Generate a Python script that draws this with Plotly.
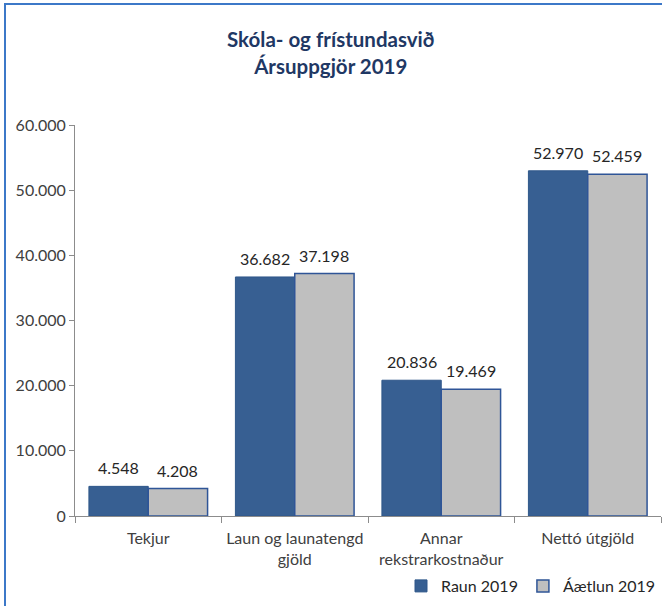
import plotly.graph_objects as go

categories = ["Tekjur", "Laun og launatengd<br>gjöld", "Annar<br>rekstrarkostnaður", "Nettó útgjöld"]
raun_2019 = [4548, 36682, 20836, 52970]
aaetlun_2019 = [4208, 37198, 19469, 52459]
y_ticks = [0, 10000, 20000, 30000, 40000, 50000, 60000]
title_lines = ["Skóla- og frístundasvið", "Ársuppgjör 2019"]

FONT = "Lato, Calibri, Arial, sans-serif"
dark = "#375F92"
gray = "#BFBFBF"

fig = go.Figure()
fig.add_trace(go.Bar(name="Raun 2019", x=categories, y=raun_2019,
                     marker=dict(color=dark, line=dict(color="#2F578A", width=1))))
fig.add_trace(go.Bar(name="Áætlun 2019", x=categories, y=aaetlun_2019,
                     marker=dict(color=gray, line=dict(color="#2F5597", width=1.5))))

ann = []
for c, a, b in zip(categories, raun_2019, aaetlun_2019):
    for v, sh in ((a, -29.5), (b, 29.5)):
        ann.append(dict(x=c, y=v, xref="x", yref="y", text=f"{v:,}".replace(",", "."),
                        showarrow=False, xshift=sh, yshift=7, yanchor="bottom",
                        font=dict(family=FONT, size=16, color="#262626")))
ann.append(dict(x=(331 - 75) / 586, y=(516 - 53) / 391, xref="paper", yref="paper", yanchor="middle",
                text="<b>" + "<br>".join(title_lines) + "</b>", showarrow=False,
                font=dict(family=FONT, size=20.5, color="#1F3864")))

fig.update_layout(
    width=662, height=606,
    margin=dict(l=75, r=1, t=125, b=90),
    paper_bgcolor="white", plot_bgcolor="white",
    barmode="group", bargap=0.19, bargroupgap=0,
    separators=",.",
    font=dict(family=FONT, size=16, color="#404040"),
    annotations=ann,
    showlegend=True,
    legend=dict(orientation="h", x=1.0, xanchor="right", y=(516 - 586) / 391, yanchor="middle",
                font=dict(family=FONT, size=16, color="#262626"),
                traceorder="normal", itemwidth=30, tracegroupgap=0,
                bgcolor="rgba(0,0,0,0)"),
    shapes=[dict(type="rect", xref="paper", yref="paper",
                 x0=-70/586, x1=1.2, y0=-0.6, y1=512/391,
                 line=dict(color="#3C78C8", width=2), fillcolor="rgba(0,0,0,0)", layer="below")],
)
fig.update_yaxes(range=[0, 60000], tickvals=y_ticks, tickformat=",d", showgrid=False,
                 showline=True, linecolor="#8C8C8C", linewidth=1, ticks="outside",
                 ticklen=5, tickcolor="#8C8C8C", zeroline=False,
                 tickfont=dict(family=FONT, size=16, color="#404040"))
fig.update_xaxes(showline=True, linecolor="#8C8C8C", linewidth=1, ticks="outside",
                 tickson="boundaries", ticklen=6, tickcolor="#8C8C8C", showgrid=False,
                 ticklabelstandoff=8, automargin=False,
                 tickfont=dict(family=FONT, size=16, color="#404040"))

fig.write_html("out.html")
